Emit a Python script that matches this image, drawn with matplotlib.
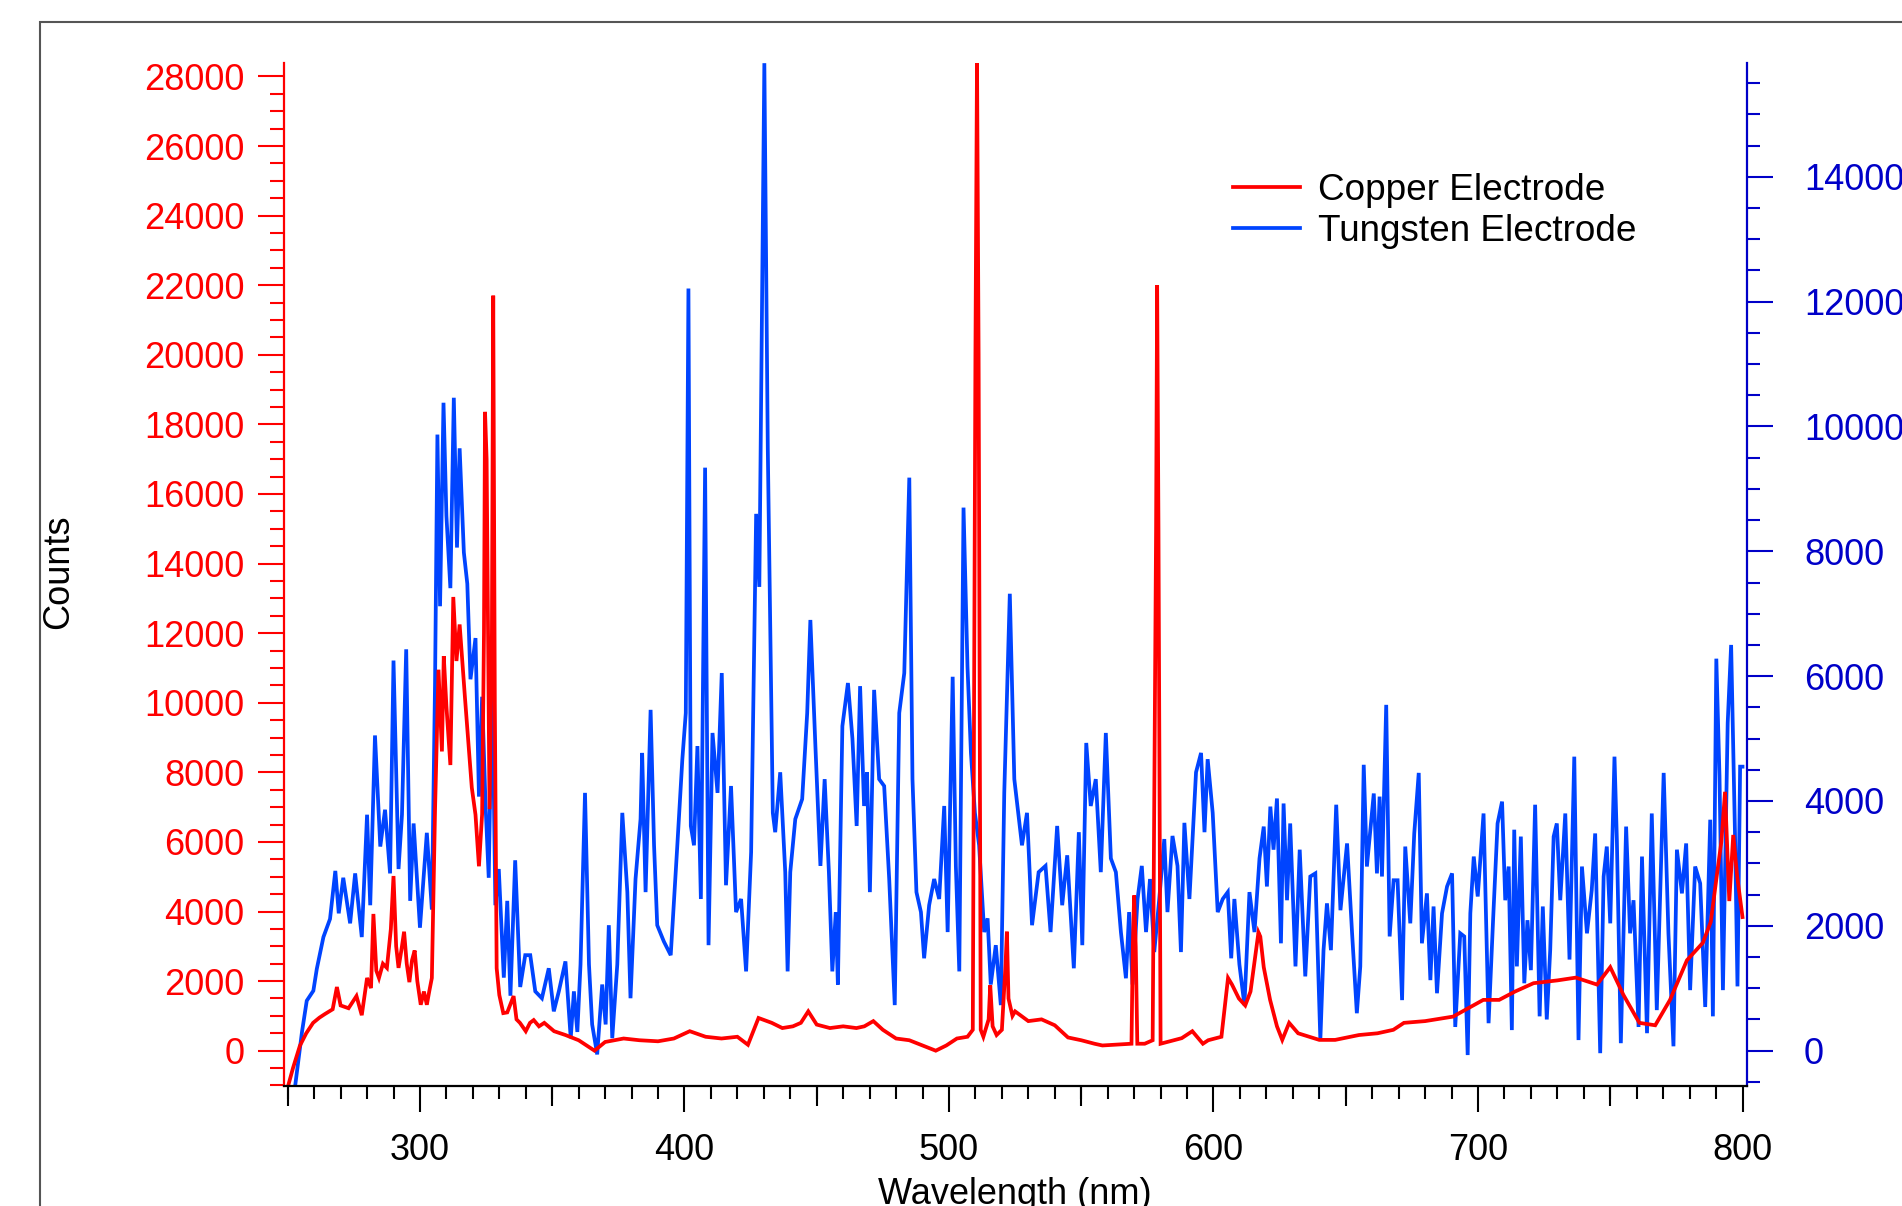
import matplotlib
matplotlib.use("Agg")
import matplotlib.pyplot as plt
from matplotlib.patches import Rectangle
from matplotlib.ticker import MultipleLocator, FixedLocator, NullLocator

plt.rcParams['font.family'] = ['Liberation Sans', 'DejaVu Sans']

# ---------------- data ----------------
copper_nm = [250.2, 252, 254.6, 257, 259.6, 262, 264, 267, 268.6, 270, 273, 276, 278, 280, 281.5,
             282.4, 283.5, 284.5, 286, 287.5, 289, 290, 291, 291.9, 293, 294, 295, 296, 297, 298,
             299, 300.3, 301.5, 302.6, 303.5, 304.5, 305.7, 307, 308.3, 309, 310, 311.5, 312.6,
             313.8, 315, 317, 318.3, 319.6, 321, 322.3, 323.5, 324.2, 324.6, 325.2, 326.3, 327.2,
             327.7, 328.3, 329, 330, 331.5, 333, 335.4, 336.5, 337.8, 340, 341.6, 343, 345, 347,
             350.7, 355, 360, 366, 370, 377, 383, 390, 396, 402, 408, 414, 420, 424, 428, 433,
             437, 441, 444, 446.8, 450, 455, 460, 465, 468, 471.4, 475, 480, 485, 490, 495, 499,
             503, 507, 509, 510, 510.6, 511.2, 512, 513, 515, 515.6, 516.5, 518, 520, 521.4,
             521.9, 522.5, 524, 525, 530, 535, 540, 545, 550, 555, 558, 569, 569.5, 570, 570.6,
             571.2, 574, 577, 578.3, 578.7, 579.2, 580, 588, 592, 596, 598, 603, 605.5, 607,
             609.6, 612, 614, 617, 617.7, 619, 621.4, 624, 626, 628.6, 632, 640, 646, 655, 662,
             668, 672, 680, 690.6, 697, 702, 708, 714, 721, 730, 737, 745, 750, 755, 761, 767,
             772.6, 779, 785, 788, 790.4, 792, 793.4, 795, 796.5, 798, 800]
copper_counts = [-1000, -500, 140, 500, 800, 950, 1050, 1190, 1830, 1300, 1220, 1570, 1020, 2090, 1800,
                 3930, 2300, 2090, 2500, 2380, 3500, 5020, 3000, 2380, 2900, 3420, 2500, 1970, 2600, 2880,
                 2000, 1320, 1700, 1320, 1700, 2090, 6920, 10950, 8600, 11340, 9900, 8210, 13040,
                 11200, 12250, 10160, 8870, 7560, 6780, 5300, 6800, 12000, 18360, 17000, 6940, 12000,
                 21700, 10000, 2370, 1600, 1080, 1100, 1570, 900, 800, 560, 800, 880, 700, 800,
                 560, 450, 300, 0, 250, 350, 300, 270, 350, 560, 400, 350, 400, 170, 940, 800,
                 650, 700, 800, 1130, 750, 650, 700, 650, 700, 850, 600, 350, 300, 150, 0, 150,
                 350, 400, 600, 20000, 28500, 20000, 600, 400, 900, 1880, 700, 450, 600, 2500,
                 3420, 1500, 1000, 1130, 850, 900, 730, 380, 300, 200, 150, 200, 3000, 4460, 3000,
                 200, 200, 300, 15000, 22000, 15000, 200, 360, 560, 200, 300, 400, 2090, 1900,
                 1500, 1300, 1700, 3400, 3280, 2400, 1460, 700, 310, 800, 500, 310, 310, 450, 500,
                 600, 800, 850, 980, 1250, 1460, 1460, 1700, 1940, 2020, 2100, 1900, 2400, 1600, 800, 730,
                 1460, 2600, 3100, 3700, 5100, 6000, 7440, 4300, 6200, 5000, 3840]

tungsten_nm = [252.8, 255.4, 257.2, 259.7, 261, 263.5, 266, 268, 269.3, 271, 273.6, 275.5, 278, 280,
               281.2, 283, 285, 286.8, 288.7, 290, 291.9, 293.2, 294.8, 296.3, 297.6, 300, 302.6,
               304.5, 305.7, 306.6, 307.6, 308.9, 310, 311.5, 312.8, 314, 315, 316.6, 317.9, 319.1,
               321, 322.3, 323.5, 324.8, 326, 327.3, 328.5, 329.8, 331.7, 333, 334.2, 336, 337.9,
               339.8, 341.7, 343.6, 346.1, 348.7, 350.6, 352.5, 355, 357, 358.2, 359.5, 360.7,
               362.4, 363.9, 365.1, 367, 368.9, 370.2, 371.4, 372.7, 374.6, 376.5, 378.4, 379.6,
               381.5, 383.4, 384, 385.3, 387.2, 388.5, 389.7, 392.2, 394.8, 397.3, 399.2, 400.5,
               401.5, 402.4, 403.6, 404.9, 406.2, 407.8, 409.1, 410.6, 412.5, 414.1, 415.7, 417.6,
               419.5, 421.4, 423.3, 425.2, 427.1, 428.3, 430.2, 431.5, 433.4, 434.3, 436.2, 438.1,
               439, 440, 441.9, 444.5, 446.4, 447.6, 449.5, 451.4, 453, 454.6, 455.9, 457.2, 458,
               459.7, 461.8, 463.5, 465.1, 466.4, 467.9, 469, 470.1, 471.7, 473.6, 475.5, 477.4,
               479.5, 481.2, 483.1, 485, 486.2, 487.7, 489.4, 490.6, 492.5, 494.4, 496.3, 498.2,
               499.5, 501.4, 502.6, 503.9, 505.5, 507, 508.3, 509.8, 511.4, 513.3, 514.6, 515.8,
               517.7, 519.6, 520.9, 523, 524.7, 527.6, 529.5, 531.4, 533.9, 536.5, 538.4, 540.9,
               542.8, 544.7, 547.2, 549.1, 550.4, 551.9, 553.6, 555.5, 557.4, 559.3, 561.2, 563.1,
               565, 566.9, 568.1, 569.4, 571.3, 572.9, 574.5, 576, 577.6, 579.5, 581.4, 582.6,
               584.5, 586.4, 587.7, 589, 590.9, 593.4, 595.3, 596.6, 597.8, 599.7, 601.6, 603.5,
               605.4, 606.7, 607.9, 609.8, 611.7, 613.6, 615.5, 617.4, 619, 620.2, 621.5, 622.7,
               624, 625.5, 626.5, 627.8, 629, 631, 632.6, 634.7, 636.6, 638.5, 640.4, 641.6, 642.9,
               644.4, 646.4, 648, 650.5, 652.4, 654.2, 655.5, 656.8, 658, 660.6, 661.8, 662.8,
               663.7, 665.3, 666.6, 668.1, 669.6, 671.3, 672.5, 674.4, 675.9, 677.6, 678.8, 680.7,
               682, 683.2, 684.5, 686.4, 688.3, 690.2, 691.4, 693.3, 694.8, 696.1, 697.1, 698.4,
               699.9, 702.1, 704, 705.7, 707.4, 709.1, 710.3, 711.6, 712.8, 713.7, 714.7, 716.2,
               717.5, 718.7, 720, 721.6, 723.3, 724.5, 726, 727.3, 728.6, 729.8, 731.1, 733, 734.6,
               736.4, 738, 739.3, 741.2, 743, 744.3, 746.2, 747.5, 748.7, 750, 751.6, 752.5, 754,
               756, 757.5, 758.8, 760.7, 762, 763.9, 765.7, 767.6, 770.2, 772, 773.9, 775.2, 777.1,
               778.7, 780.2, 782.1, 784, 785.9, 787.8, 788.8, 790.1, 791.3, 792.6, 794.4, 795.7,
               797.2, 798.1, 799.1, 800]
tungsten_counts = [-570, 300, 800, 960, 1310, 1820, 2110, 2880, 2200, 2770, 2040, 2840, 1820, 3780,
                   2330, 5050, 3270, 3860, 2840, 6250, 2910, 3780, 6430, 2400, 3640, 1970, 3490,
                   2260, 5880, 9870, 7120, 10380, 8570, 7410, 10460, 8060, 9650, 7980, 7480, 5950,
                   6610, 4070, 5670, 3930, 2770, 6100, 2330, 2910, 1170, 2400, 880, 3050, 1020,
                   1530, 1530, 950, 840, 1320, 630, 950, 1430, 200, 950, 300, 1380,
                   4130, 1380, 420, -60, 1060, 420, 2010, 200, 1380, 3810, 2540, 840,
                   2750, 3710, 4770, 2540, 5460, 3290, 2010, 1750, 1530, 3290, 4670, 5410,
                   12210, 3600, 3290, 4880, 2430, 9340, 1690, 5090, 4130, 6050, 2650, 4240,
                   2220, 2430, 1270, 3180, 8600, 7430, 15820, 9650, 3810, 3500, 4460, 2860,
                   1270, 2860, 3710, 4030, 5410, 6900, 4880, 2960, 4350, 2860, 1270, 2220, 1060,
                   5200, 5890, 5000, 3600, 5840, 3920, 4460, 2540, 5780, 4350, 4240, 2750,
                   730, 5410, 6050, 9180, 4350, 2540, 2220, 1480, 2330, 2750, 2430, 3920,
                   1900, 5990, 2960, 1270, 8700, 6150, 4770, 3810, 3290, 1900, 2120, 1060,
                   1690, 730, 4130, 7320, 4350, 3290, 3810, 2010, 2860, 2960, 1900, 3600,
                   2330, 3130, 1320, 3500, 1690, 4930, 3920, 4350, 2860, 5090, 3080, 2860,
                   1900, 1160, 2220, 1060, 2430, 2960, 1900, 2750, 1580, 2430, 3390, 2220,
                   3440, 2960, 1580, 3650, 2430, 4460, 4770, 3500, 4670, 3810, 2220, 2430,
                   2540, 1480, 2430, 1380, 730, 2540, 1900, 3080, 3590, 2630, 3910, 3220,
                   4040, 1720, 3960, 2410, 3640, 1350, 3220, 1190, 2790, 2840, 170, 1610, 2360,
                   1610, 3940, 2250, 3320, 1880, 600, 1350, 4580, 2950, 4120, 2840, 4070,
                   2790, 5540, 1830, 2730, 2730, 810, 3270, 2040, 3480, 4450, 1720, 2520,
                   1130, 2310, 920, 2200, 2630, 2840, 380, 1880, 1830, -70, 2200, 3110,
                   2470, 3800, 440, 2090, 3640, 3990, 2410, 2950, 330, 3540, 1350, 3430,
                   1080, 2090, 1290, 3940, 550, 2310, 500, 1610, 3430, 3640, 2410, 3800, 1460,
                   4710, 170, 2950, 1880, 2570, 3480, -40, 2790, 3270, 2040, 4710, 3380, 120,
                   3590, 1880, 2410, 380, 3110, 280, 3800, 650, 4450, 1880, 70, 3220, 2520,
                   3320, 970, 2950, 2680, 700, 3700, 550, 6280, 4400, 970, 5250, 6500,
                   3380, 1030, 4550, 4550]

x_major_ticks = [300, 400, 500, 600, 700, 800]
x_mid_ticks = [250, 350, 450, 550, 650, 750]
series_labels = ['Copper Electrode', 'Tungsten Electrode']

RED = '#FF0000'
BLUE_LINE = '#0044FF'
BLUE_AX = '#0000C8'
W, H = 1902, 1206

fig = plt.figure(figsize=(W / 100, H / 100), dpi=100)
fig.patch.set_facecolor('white')

# outer frame (extends past right and bottom edges)
fig.add_artist(Rectangle((40 / W, -0.2), 1.5, 1.2 - 22 / H, transform=fig.transFigure,
                         fill=False, edgecolor='#555555', lw=1.5))

L, R, T, B = 284, 1747, 63, 1086
ax = fig.add_axes([L / W, 1 - B / H, (R - L) / W, (B - T) / H])
ax2 = ax.twinx()
ax.set_zorder(ax2.get_zorder() + 1)
ax.patch.set_visible(False)

h2, = ax2.plot(tungsten_nm, tungsten_counts, color=BLUE_LINE, lw=2.7, solid_joinstyle='miter')
h1, = ax.plot(copper_nm, copper_counts, color=RED, lw=2.7, solid_joinstyle='miter')

ax.set_xlim(248.6, 801.7)
ax.set_ylim(-1015, 28387)
ax2.set_ylim(-566, 15823)

# spines
for s in ['top', 'right']:
    ax.spines[s].set_visible(False)
for s in ['top', 'left', 'bottom']:
    ax2.spines[s].set_visible(False)
ax.spines['left'].set_color(RED)
ax.spines['left'].set_linewidth(1.6)
ax.spines['bottom'].set_color('black')
ax.spines['bottom'].set_linewidth(1.6)
ax2.spines['right'].set_color(BLUE_AX)
ax2.spines['right'].set_linewidth(1.6)

# x ticks
ax.xaxis.set_major_locator(FixedLocator(x_major_ticks))
ax.xaxis.set_minor_locator(MultipleLocator(10))
ax.tick_params(axis='x', which='major', direction='out', length=19, width=1.5,
               colors='black', labelsize=26, pad=15)
ax.tick_params(axis='x', which='minor', direction='out', length=9.6, width=1.5, colors='black')
sec = ax.secondary_xaxis('bottom')
sec.set_xticks(x_mid_ticks)
sec.xaxis.set_minor_locator(NullLocator())
sec.tick_params(axis='x', which='major', direction='out', length=14.4, width=1.5,
                colors='black', labelbottom=False)
sec.spines['bottom'].set_visible(False)

# left y ticks
ax.yaxis.set_major_locator(MultipleLocator(2000))
ax.yaxis.set_minor_locator(MultipleLocator(500))
ax.tick_params(axis='y', which='major', direction='out', length=18.5, width=1.5,
               colors=RED, labelsize=26, pad=10)
ax.tick_params(axis='y', which='minor', direction='out', length=10, width=1.5, colors=RED)

# right y ticks
ax2.yaxis.set_major_locator(MultipleLocator(2000))
ax2.yaxis.set_minor_locator(MultipleLocator(500))
ax2.tick_params(axis='y', which='major', direction='out', length=19, width=1.5,
                colors=BLUE_AX, labelsize=26, pad=22)
ax2.tick_params(axis='y', which='minor', direction='out', length=9.6, width=1.5, colors=BLUE_AX)

# labels
ax.set_ylabel('Counts', fontsize=26, color='black')
ax.yaxis.set_label_coords((76 - L) / (R - L), (B - 572) / (B - T))
ax.set_xlabel('Wavelength (nm)', fontsize=26, color='black')
ax.xaxis.set_label_coords((1015 - L) / (R - L), (B - 1177) / (B - T))

# legend
ax.legend([h1, h2], series_labels, loc='center left',
          bbox_to_anchor=(1233 / W, 1 - 211 / H), bbox_transform=fig.transFigure,
          frameon=False, fontsize=26.6, handlelength=1.8, handletextpad=0.5,
          labelspacing=0.18, borderpad=0, borderaxespad=0)

fig.savefig('out.png', dpi=100, facecolor='white')
